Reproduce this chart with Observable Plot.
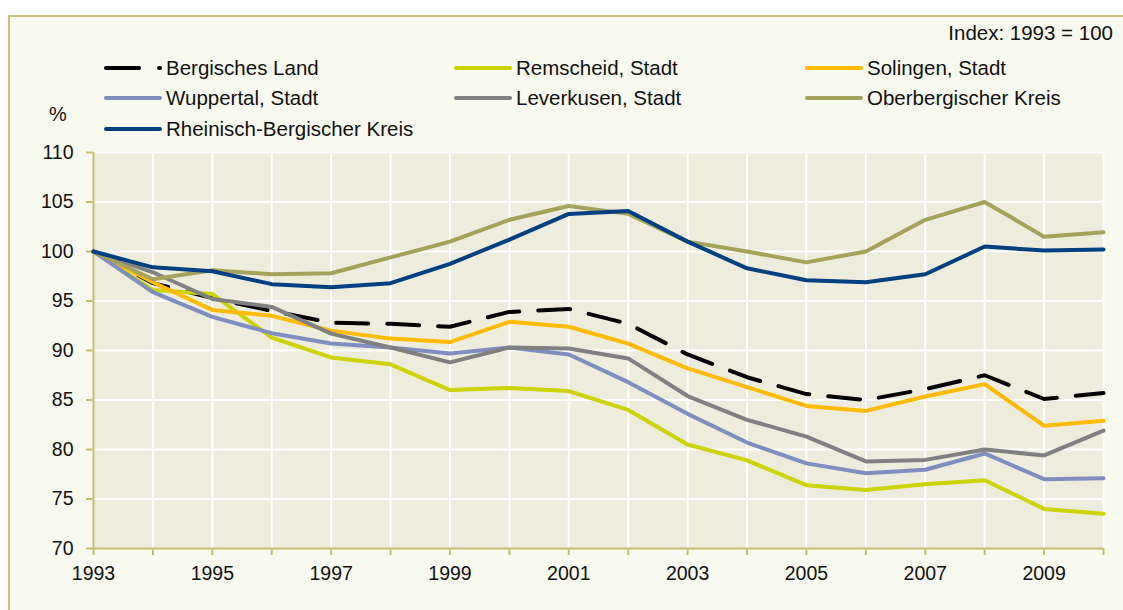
<!DOCTYPE html>
<html>
<head>
<meta charset="utf-8">
<script src="https://cdn.jsdelivr.net/npm/d3@7"></script>
<script src="https://cdn.jsdelivr.net/npm/@observablehq/plot@0.6"></script>
<style>
  html, body { margin: 0; padding: 0; background: #ffffff; width: 1123px; height: 610px; overflow: hidden; }
  body { position: relative; font-family: "Liberation Sans", Arial, sans-serif; color: #111; }
  #box { position: absolute; left: 8px; top: 15px; width: 1300px; height: 800px;
         border: 2px solid #C9C37C; background: #F8F9EF; box-sizing: border-box; }
  #chart { position: absolute; left: 0; top: 0; }
  .lg { position: absolute; display: flex; align-items: center; font-size: 20.5px; white-space: nowrap; line-height: 1; }
  .lg svg { display: block; margin-right: 4px; }
  #index { position: absolute; top: 23px; right: 10px; font-size: 20.5px; line-height: 1; white-space: nowrap; }
  #pct { position: absolute; left: 49px; top: 104px; font-size: 20px; line-height: 1; }
  #chart g[aria-label="x-axis"] line, #chart g[aria-label="y-axis"] line,
  #chart g[aria-label="x-axis"] path, #chart g[aria-label="y-axis"] path { stroke: #C2BC6C; stroke-width: 2px; }
  #chart g[aria-label="x-axis tick"], #chart g[aria-label="y-axis tick"] { stroke: #C2BC6C; stroke-width: 2px; }
</style>
</head>
<body>
<div id="box"></div>
<div id="chart"></div>
<div id="index">Index: 1993 = 100</div>
<div id="pct">%</div>
<div id="legend"></div>
<script>
// ---- data ----
const years = [1993,1994,1995,1996,1997,1998,1999,2000,2001,2002,2003,2004,2005,2006,2007,2008,2009,2010];
const yTicks = [70,75,80,85,90,95,100,105,110];

const bergischesLand     = [100,96.8,95.3,94.0,92.8,92.7,92.4,93.9,94.2,92.7,89.6,87.3,85.6,85.0,86.1,87.5,85.1,85.7];
const remscheid          = [100,96.1,95.7,91.3,89.3,88.6,86.0,86.2,85.9,84.0,80.5,78.9,76.4,75.9,76.5,76.9,74.0,73.5];
const solingen           = [100,96.9,94.1,93.5,92.0,91.2,90.85,92.9,92.4,90.7,88.2,86.3,84.4,83.9,85.35,86.6,82.4,82.9];
const wuppertal          = [100,95.9,93.4,91.75,90.7,90.3,89.7,90.3,89.6,86.8,83.6,80.7,78.6,77.6,77.95,79.6,77.0,77.1];
const leverkusen         = [100,97.9,95.2,94.4,91.7,90.3,88.8,90.3,90.2,89.2,85.4,83.0,81.3,78.8,78.95,80.0,79.4,81.9];
const oberbergischer     = [100,97.2,98.1,97.7,97.8,99.4,101.0,103.2,104.6,103.8,101.0,100.0,98.9,100.0,103.2,105.0,101.5,101.95];
const rheinischBergischer= [100,98.4,98.0,96.7,96.4,96.8,98.75,101.2,103.8,104.1,101.0,98.3,97.1,96.9,97.7,100.5,100.1,100.2];

const seriesNames  = ["Bergisches Land","Remscheid, Stadt","Solingen, Stadt","Wuppertal, Stadt","Leverkusen, Stadt","Oberbergischer Kreis","Rheinisch-Bergischer Kreis"];
const seriesValues = [bergischesLand, remscheid, solingen, wuppertal, leverkusen, oberbergischer, rheinischBergischer];
const seriesColors = ["#000000","#CCD300","#FFBB00","#7F8EC0","#808080","#A5A25A","#003F80"];
const seriesDash   = ["32,19", null, null, null, null, null, null];

// tidy table
const rows = [];
seriesNames.forEach((name, i) => years.forEach((yr, j) => rows.push({series: name, year: yr, value: seriesValues[i][j]})));

const olive = "#C2BC6C";

const marks = [
  Plot.frame({fill: "#EEECDD", stroke: "none"}),
  Plot.ruleY(yTicks, {stroke: "#ffffff", strokeWidth: 2}),
  Plot.ruleX(years, {stroke: "#ffffff", strokeWidth: 2}),
  Plot.ruleY([70], {stroke: olive, strokeWidth: 2}),
  Plot.ruleX([1993], {stroke: olive, strokeWidth: 2})
];
seriesNames.forEach((name, i) => {
  marks.push(Plot.line(rows.filter(d => d.series === name), {
    x: "year", y: "value", stroke: seriesColors[i], strokeWidth: 4,
    strokeDasharray: seriesDash[i] || undefined, strokeLinecap: "round", strokeLinejoin: "round"
  }));
});

const chart = Plot.plot({
  width: 1123,
  height: 610,
  marginLeft: 93,
  marginRight: 20,
  marginTop: 152,
  marginBottom: 62,
  style: {background: "transparent", fontFamily: "'Liberation Sans', Arial, sans-serif", fontSize: "19.5px", color: "#111", overflow: "visible"},
  x: {domain: [1993, 2010], ticks: years, tickFormat: d => (d % 2 === 1 ? String(d) : ""), tickSize: 7, tickPadding: 11, label: null},
  y: {domain: [70, 110], ticks: yTicks, tickFormat: d => String(d), tickSize: 7, tickPadding: 13, label: null},
  marks
});
document.getElementById("chart").appendChild(chart);

// ---- legend ----
const legendPos = [
  [104, 68], [454, 68], [805, 68],
  [104, 98], [454, 98], [805, 98],
  [104, 129]
];
const lg = document.getElementById("legend");
seriesNames.forEach((name, i) => {
  const [lx, ly] = legendPos[i];
  const item = document.createElement("div");
  item.className = "lg";
  item.style.left = lx + "px";
  item.style.top = (ly - 11) + "px";
  item.style.height = "22px";
  const sw = d3.create("svg").attr("width", 58).attr("height", 8);
  sw.append("line").attr("x1", 2).attr("x2", 56).attr("y1", 4).attr("y2", 4)
    .attr("stroke", seriesColors[i]).attr("stroke-width", 4).attr("stroke-linecap", "round")
    .attr("stroke-dasharray", seriesDash[i] ? "33,20" : null);
  item.appendChild(sw.node());
  const t = document.createElement("span");
  t.textContent = name;
  item.appendChild(t);
  lg.appendChild(item);
});
</script>
</body>
</html>
